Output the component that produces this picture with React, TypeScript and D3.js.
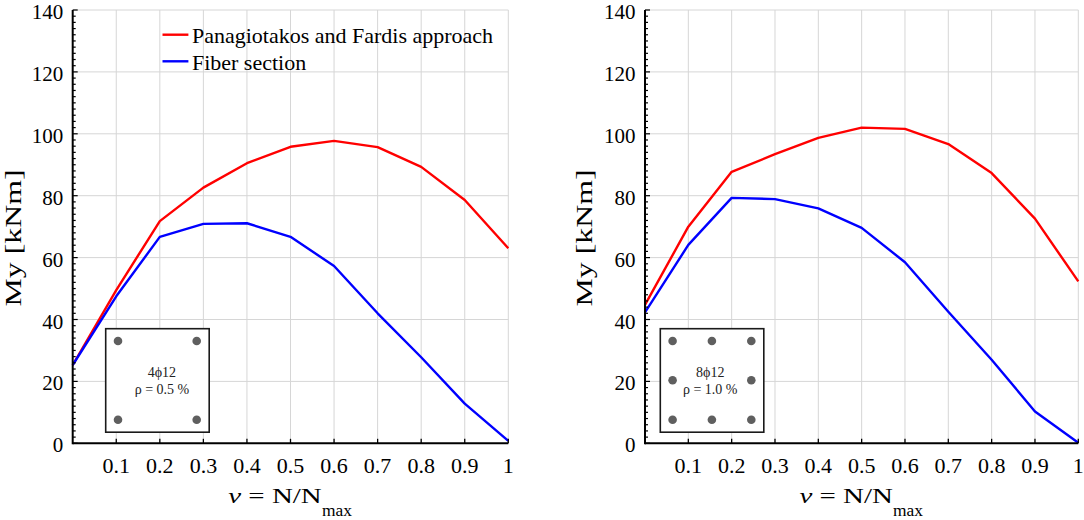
import React from "react";
import * as d3 from "d3";

// ---- data ----
const nu = [0, 0.1, 0.2, 0.3, 0.4, 0.5, 0.6, 0.7, 0.8, 0.9, 1];
const leftPF = [25.3, 49.5, 71.8, 82.6, 90.5, 95.8, 97.7, 95.7, 89.3, 78.6, 63.0];
const leftFiber = [25.3, 47.5, 66.7, 70.9, 71.1, 66.7, 57.3, 42.0, 27.8, 12.8, 0.8];
const rightPF = [44.7, 70.0, 87.7, 93.4, 98.7, 102.0, 101.6, 96.7, 87.3, 72.6, 52.3];
const rightFiber = [42.3, 64.1, 79.3, 78.9, 75.9, 69.6, 58.5, 42.5, 27.0, 10.3, 0.2];
const xTicks = [0.1, 0.2, 0.3, 0.4, 0.5, 0.6, 0.7, 0.8, 0.9, 1];
const xTickLabels = ["0.1", "0.2", "0.3", "0.4", "0.5", "0.6", "0.7", "0.8", "0.9", "1"];
const yTicks = [0, 20, 40, 60, 80, 100, 120, 140];
const seriesNames = ["Panagiotakos and Fardis approach", "Fiber section"];
const leftBars = [[0, 0], [2, 0], [0, 2], [2, 2]];
const rightBars = [[0, 0], [1, 0], [2, 0], [0, 1], [2, 1], [0, 2], [1, 2], [2, 2]];
const leftInsetText = ["4ϕ12", "ρ = 0.5 %"];
const rightInsetText = ["8ϕ12", "ρ = 1.0 %"];

const FONT = "'Liberation Serif', 'Times New Roman', serif";
const RED = "#ff0000";
const BLUE = "#0000ff";

type PanelProps = {
  x0: number;
  x1: number;
  pf: number[];
  fiber: number[];
  bars: number[][];
  insetText: string[];
  insetLeft: number;
  insetTextDx: number;
  yLabelX: number;
  legend: boolean;
};

const Y0 = 443.3;
const Y1 = 10;

function Panel(p: PanelProps) {
  const xs = d3.scaleLinear().domain([0, 1]).range([p.x0, p.x1]);
  const ys = d3.scaleLinear().domain([0, 140]).range([Y0, Y1]);
  const line = d3
    .line<number>()
    .x((_, i) => xs(nu[i]))
    .y((d) => ys(d));
  const minor = d3.range(0, 140.001, 2);
  const boxX = p.x0 + p.insetLeft;
  const boxY = 328.7;
  const boxS = 103.5;
  const dotOff = [12.3, 51.6, 91.0];
  const cx = (p.x0 + p.x1) / 2;
  return (
    <g>
      {/* grid */}
      {xTicks.map((t) => (
        <line key={"gx" + t} x1={xs(t)} x2={xs(t)} y1={ys(0)} y2={ys(140)} stroke="#d6d6d6" strokeWidth={1} />
      ))}
      {yTicks.filter((t) => t > 0).map((t) => (
        <line key={"gy" + t} x1={xs(0)} x2={xs(1)} y1={ys(t)} y2={ys(t)} stroke="#d6d6d6" strokeWidth={1} />
      ))}
      {/* series */}
      <path d={line(p.pf) || ""} fill="none" stroke={RED} strokeWidth={2.4} strokeLinejoin="round" />
      <path d={line(p.fiber) || ""} fill="none" stroke={BLUE} strokeWidth={2.4} strokeLinejoin="round" />
      {/* inset */}
      <rect x={boxX} y={boxY} width={boxS} height={boxS} fill="#ffffff" stroke="#1a1a1a" strokeWidth={1.6} />
      {p.bars.map((b, i) => (
        <circle key={"b" + i} cx={boxX + dotOff[b[0]]} cy={boxY + dotOff[b[1]]} r={4.3} fill="#5f5f5f" />
      ))}
      <text x={boxX + boxS / 2 + p.insetTextDx} y={377.3} textAnchor="middle" fontFamily={FONT} fontSize={14} fill="#222">
        {p.insetText[0]}
      </text>
      <text x={boxX + boxS / 2 + p.insetTextDx} y={393.5} textAnchor="middle" fontFamily={FONT} fontSize={14} fill="#222">
        {p.insetText[1]}
      </text>
      {/* axes */}
      <line x1={xs(0)} x2={xs(1)} y1={ys(0)} y2={ys(0)} stroke="#000" strokeWidth={2} />
      <line x1={xs(0)} x2={xs(0)} y1={ys(0) + 1} y2={ys(140)} stroke="#000" strokeWidth={2} />
      {xTicks.map((t) => (
        <line key={"tx" + t} x1={xs(t)} x2={xs(t)} y1={ys(0)} y2={ys(0) - 4.5} stroke="#000" strokeWidth={1.3} />
      ))}
      {minor.map((t) => (
        <line
          key={"my" + t}
          x1={xs(0)}
          x2={xs(0) + (t % 20 === 0 ? 5 : 3)}
          y1={ys(t)}
          y2={ys(t)}
          stroke="#000"
          strokeWidth={1.2}
        />
      ))}
      {xTicks.map((t, i) => (
        <text key={"lx" + t} x={xs(t)} y={473.3} textAnchor="middle" fontFamily={FONT} fontSize={22} fill="#000">
          {xTickLabels[i]}
        </text>
      ))}
      {yTicks.map((t) => (
        <text key={"ly" + t} x={xs(0) - 9.5} y={ys(t) + 9} textAnchor="end" fontFamily={FONT} fontSize={21} fill="#000">
          {t}
        </text>
      ))}
      {/* axis labels */}
      <text
        transform={`translate(${p.yLabelX},238) rotate(-90)`}
        textAnchor="middle"
        fontFamily={FONT}
        fontSize={24}
        textLength={137}
        lengthAdjust="spacingAndGlyphs"
        fill="#000"
      >
        My [kNm]
      </text>
      <text x={cx - 62.2} y={503.3} fontFamily={FONT} fontSize={21.5} textLength={93.4} lengthAdjust="spacingAndGlyphs" fill="#000">
        <tspan fontStyle="italic">ν</tspan> = N/N
      </text>
      <text x={cx + 31.4} y={516} fontFamily={FONT} fontSize={16.5} textLength={30} lengthAdjust="spacingAndGlyphs" fill="#000">
        max
      </text>
      {/* legend */}
      {p.legend && (
        <g>
          <line x1={162.5} x2={188.4} y1={34.7} y2={34.7} stroke={RED} strokeWidth={2.4} />
          <text x={191.9} y={43.3} fontFamily={FONT} fontSize={22} fill="#000">
            {seriesNames[0]}
          </text>
          <line x1={162.5} x2={188.4} y1={61.3} y2={61.3} stroke={BLUE} strokeWidth={2.4} />
          <text x={191.9} y={69.5} fontFamily={FONT} fontSize={22} fill="#000">
            {seriesNames[1]}
          </text>
        </g>
      )}
    </g>
  );
}

export default function App() {
  return (
    <svg
      width={1084}
      height={520}
      viewBox="0 0 1084 520"
      style={{ position: "absolute", left: 0, top: 0, background: "#fff" }}
    >
      <rect x={0} y={0} width={1084} height={520} fill="#fff" />
      <Panel
        x0={72.7}
        x1={508.3}
        pf={leftPF}
        fiber={leftFiber}
        bars={leftBars}
        insetText={leftInsetText}
        insetLeft={33}
        insetTextDx={4.5}
        yLabelX={21}
        legend={true}
      />
      <Panel
        x0={645}
        x1={1078.3}
        pf={rightPF}
        fiber={rightFiber}
        bars={rightBars}
        insetText={rightInsetText}
        insetLeft={15.3}
        insetTextDx={-1.8}
        yLabelX={591.5}
        legend={false}
      />
    </svg>
  );
}
